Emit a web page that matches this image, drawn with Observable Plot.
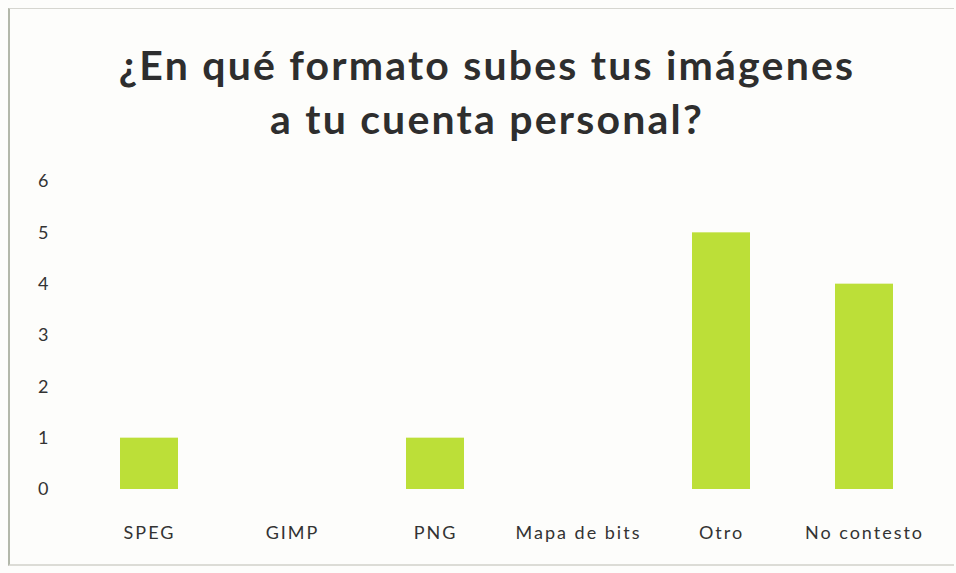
<!DOCTYPE html>
<html>
<head>
<meta charset="utf-8">
<script src="https://cdn.jsdelivr.net/npm/d3@7"></script>
<script src="https://cdn.jsdelivr.net/npm/@observablehq/plot@0.6"></script>
<style>
  html, body { margin: 0; padding: 0; background: #fdfdfb; }
  #wrap { position: relative; width: 956px; height: 573px; background: #fdfdfb; overflow: hidden; }
  #frame { position: absolute; left: 8px; top: 8px; width: 946px; height: 558px;
           border-left: 2px solid #b3b8aa; border-top: 1px solid #d6d6d0; border-bottom: 2px solid #dcdcd6; box-sizing: border-box; }
  #title { position: absolute; top: 38px; left: 9px; width: 956px; text-align: center;
           font-family: Lato, "Open Sans", sans-serif; font-weight: 700; font-size: 41px; letter-spacing: 2.2px;
           line-height: 54px; color: #2e2e2e; }
  #chart { position: absolute; top: 150px; left: 0; }
  #chart svg { background: transparent; }
  #chart svg g[aria-label="x-axis tick label"] text { letter-spacing: 2px; }
</style>
</head>
<body>
<div id="wrap">
  <div id="frame"></div>
  <div id="title">¿En qué formato subes tus imágenes<br>a tu cuenta personal?</div>
  <div id="chart"></div>
</div>
<script>
const categories = ["SPEG", "GIMP", "PNG", "Mapa de bits", "Otro", "No contesto"];
const values = [1, 0, 1, 0, 5, 4];
const yTicks = [0, 1, 2, 3, 4, 5, 6];

const data = categories.map((c, i) => ({category: c, value: values[i]}));

const chart = Plot.plot({
  width: 956,
  height: 423,
  marginTop: 31,
  marginBottom: 84,
  marginLeft: 76,
  marginRight: 19,
  style: {fontFamily: "Lato, 'Open Sans', sans-serif", fontSize: "18px", color: "#333", background: "transparent"},
  x: {domain: categories, paddingInner: 0.596, paddingOuter: 0.298, label: null},
  y: {domain: [0, 6], label: null},
  marks: [
    Plot.barY(data, {x: "category", y: "value", fill: "#bcdf38"}),
    Plot.axisX({tickSize: 0, tickPadding: 37, fontSize: 18, fill: "#333"}),
    Plot.axisY({ticks: yTicks, tickSize: 0, tickPadding: 28, fontSize: 18, fill: "#333", tickFormat: d3.format("d")})
  ]
});
document.getElementById("chart").appendChild(chart);
</script>
</body>
</html>
